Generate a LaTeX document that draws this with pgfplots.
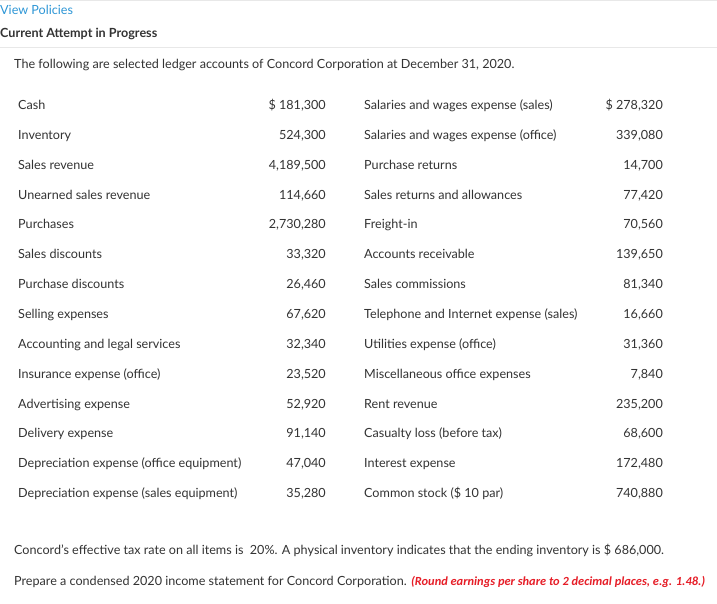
\documentclass[border=0pt]{standalone}
\usepackage{pgfplots}
\usepackage{pgfplotstable}
\pgfplotsset{compat=1.18}
\usepackage{fontspec}
\setmainfont{Lato}
\newfontfamily\carlito{Carlito}
\definecolor{tg}{RGB}{51,51,51}
\definecolor{linkblue}{RGB}{45,150,214}
\definecolor{redtxt}{RGB}{230,30,40}
\definecolor{rulegray}{RGB}{232,232,232}

\pgfplotstableread[col sep=semicolon]{
y;name;value
105;Cash;\$ 181,300
134.85;Inventory;524,300
164.7;Sales revenue;4,189,500
194.55;Unearned sales revenue;114,660
224.4;Purchases;2,730,280
254.25;Sales discounts;33,320
284.1;Purchase discounts;26,460
313.95;Selling expenses;67,620
343.8;Accounting and legal services;32,340
373.65;Insurance expense (office);23,520
403.5;Advertising expense;52,920
433.35;Delivery expense;91,140
463.2;Depreciation expense (office equipment);47,040
493.05;Depreciation expense (sales equipment);35,280
}\lefttab

\pgfplotstableread[col sep=semicolon]{
y;name;value
105;Salaries and wages expense (sales);\$ 278,320
134.85;Salaries and wages expense (office);339,080
164.7;Purchase returns;14,700
194.55;Sales returns and allowances;77,420
224.4;Freight-in;70,560
254.25;Accounts receivable;139,650
284.1;Sales commissions;81,340
313.95;Telephone and Internet expense (sales);16,660
343.8;Utilities expense (office);31,360
373.65;Miscellaneous office expenses;7,840
403.5;Rent revenue;235,200
433.35;Casualty loss (before tax);68,600
463.2;Interest expense;172,480
493.05;Common stock (\$ 10 par);740,880
}\righttab

\newcommand{\bodyfont}{\fontsize{12.6bp}{15bp}\selectfont}

\begin{document}
\begin{tikzpicture}
\begin{axis}[
  scale only axis,
  width=717bp, height=604bp,
  xmin=0, xmax=717, ymin=0, ymax=604,
  y dir=reverse,
  hide axis,
  clip=false,
  every node near coord/.append style={inner sep=0pt, font=\bodyfont, text=tg, yshift=-4.5bp},
]
\path[fill=white] (axis cs:0,0) rectangle (axis cs:717,604);
\draw[rulegray, line width=1bp] (axis cs:0,0.5) -- (axis cs:717,0.5);
\draw[rulegray, line width=1bp] (axis cs:0,48) -- (axis cs:717,48);

\node[anchor=base west, inner sep=0pt, font=\bodyfont, text=linkblue] at (axis cs:0,14.5) {View Policies};
\node[anchor=base west, inner sep=0pt, font=\bodyfont\bfseries, text=tg] at (axis cs:0,37.5) {Current Attempt in Progress};
\node[anchor=base west, inner sep=0pt, font=\bodyfont, text=tg] at (axis cs:14,68.5) {The following are selected ledger accounts of Concord Corporation at December 31, 2020.};

\addplot[only marks, mark=*, mark size=0pt, draw=none, fill=none,
  nodes near coords, point meta=explicit symbolic,
  nodes near coords style={anchor=base west}]
  table[x expr=18, y=y, meta=name] {\lefttab};
\addplot[only marks, mark=*, mark size=0pt, draw=none, fill=none,
  nodes near coords, point meta=explicit symbolic,
  nodes near coords style={anchor=base east}]
  table[x expr=326, y=y, meta=value] {\lefttab};
\addplot[only marks, mark=*, mark size=0pt, draw=none, fill=none,
  nodes near coords, point meta=explicit symbolic,
  nodes near coords style={anchor=base west}]
  table[x expr=364, y=y, meta=name] {\righttab};
\addplot[only marks, mark=*, mark size=0pt, draw=none, fill=none,
  nodes near coords, point meta=explicit symbolic,
  nodes near coords style={anchor=base east}]
  table[x expr=663, y=y, meta=value] {\righttab};

\node[anchor=base west, inner sep=0pt, font=\bodyfont, text=tg] at (axis cs:14,554.5) {Concord’s effective tax rate on all items is\ \ 20\%. A physical inventory indicates that the ending inventory is \$ 686,000.};
\node[anchor=base west, inner sep=0pt, font=\bodyfont, text=tg] at (axis cs:14,585.5) {Prepare a condensed 2020 income statement for Concord Corporation. {\carlito\bfseries\itshape\color{redtxt}\fontsize{12.4bp}{15bp}\selectfont (Round earnings per share to 2 decimal places, e.g. 1.48.)}};
\end{axis}
\pgfresetboundingbox
\useasboundingbox (current axis.south west) rectangle (current axis.north east);
\end{tikzpicture}
\end{document}
